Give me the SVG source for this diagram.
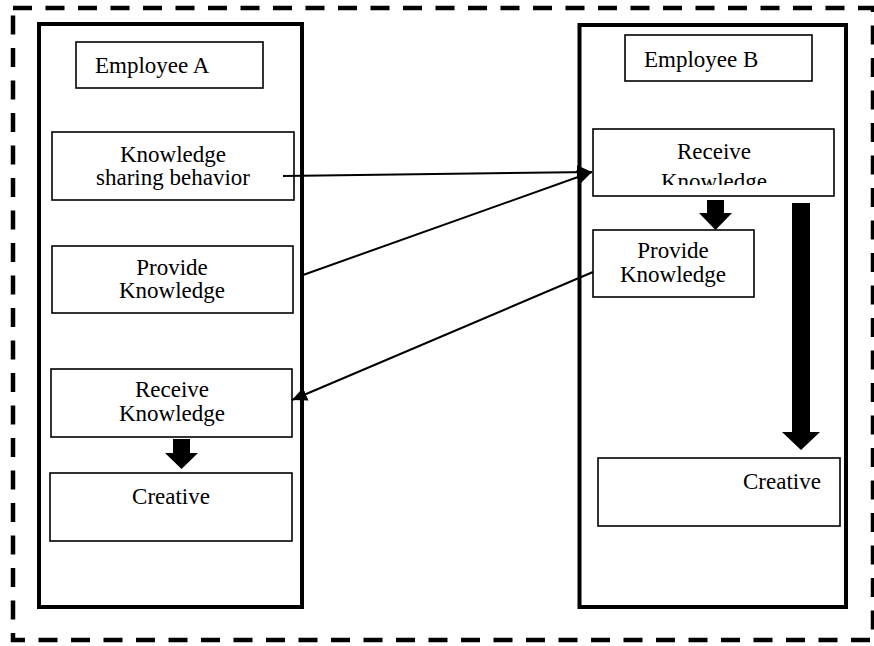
<svg xmlns="http://www.w3.org/2000/svg" width="874" height="646" viewBox="0 0 874 646">
<style>
.frame{fill:none;stroke:#000;stroke-width:4}
.box{fill:#fff;stroke:#000;stroke-width:1.6}
.t{font-family:"Liberation Serif","Times New Roman",serif;font-size:23px;fill:#000}
.c{text-anchor:middle}
.ln{fill:none;stroke:#000;stroke-width:2}
.blk{fill:#000;stroke:none}
</style>
<defs>
<marker id="ah" markerUnits="userSpaceOnUse" markerWidth="16" markerHeight="14" refX="15" refY="7" orient="auto">
<path d="M0,0 L15,7 L0,14 Z" fill="#000"/>
</marker>
<clipPath id="clipRB"><rect x="593" y="129" width="241" height="56"/></clipPath>
</defs>
<rect x="13" y="8" width="860" height="632" fill="none" stroke="#000" stroke-width="4.5" stroke-dasharray="19 13.5"/>
<g id="employeeA-frame"><rect class="frame" x="39" y="24" width="263" height="583"/></g>
<g id="employeeB-frame"><rect class="frame" x="579.5" y="25" width="266.5" height="582"/></g>
<g id="employeeA"><rect class="box" x="76" y="42" width="187" height="46"/><text class="t" x="95" y="73">Employee A</text></g>
<g id="ksb"><rect class="box" x="52" y="132" width="242" height="68"/><text class="t c" x="173" y="162">Knowledge</text><text class="t c" x="173" y="185">sharing behavior</text></g>
<g id="provideA"><rect class="box" x="52" y="246" width="241" height="67"/><text class="t c" x="172" y="275">Provide</text><text class="t c" x="172" y="298">Knowledge</text></g>
<g id="receiveA"><rect class="box" x="51" y="369" width="241" height="68"/><text class="t c" x="172" y="397">Receive</text><text class="t c" x="172" y="421">Knowledge</text></g>
<g id="creativeA"><rect class="box" x="50" y="473" width="242" height="68"/><text class="t c" x="171" y="504">Creative</text></g>
<g id="employeeB"><rect class="box" x="625" y="35" width="187" height="46"/><text class="t" x="644" y="67">Employee B</text></g>
<g id="receiveB"><rect class="box" x="593" y="129" width="241" height="67"/><text class="t c" x="714" y="159">Receive</text><text class="t c" x="714" y="189" clip-path="url(#clipRB)">Knowledge</text></g>
<g id="provideB"><rect class="box" x="593" y="230" width="161" height="67"/><text class="t c" x="673" y="258">Provide</text><text class="t c" x="673" y="282">Knowledge</text></g>
<g id="creativeB"><rect class="box" x="598" y="458" width="242" height="68"/><text class="t" x="743" y="489">Creative</text></g>
<g id="connectors">
<line class="ln" x1="283" y1="176" x2="592" y2="172" marker-end="url(#ah)"/>
<line class="ln" x1="303" y1="275" x2="592" y2="172" marker-end="url(#ah)"/>
<line class="ln" x1="593" y1="272" x2="292" y2="400" marker-end="url(#ah)"/>
<polygon class="blk" points="173,439 190,439 190,453 198,453 181.5,469 165,453 173,453"/>
<polygon class="blk" points="707,200 724,200 724,213 732,213 715.5,230 699,213 707,213"/>
<polygon class="blk" points="792,203 810,203 810,432 820,432 801,450 782,432 792,432"/>
</g>
</svg>
